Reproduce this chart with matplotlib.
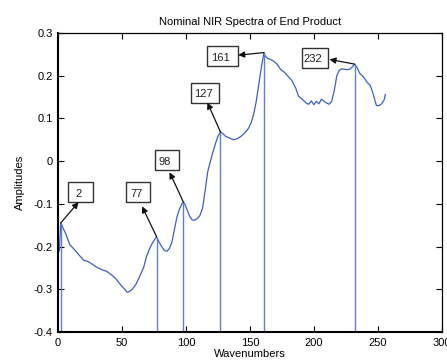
import matplotlib
matplotlib.use('Agg')
import matplotlib.pyplot as plt
from matplotlib.patches import Rectangle

# spectrum
wavenumber = [1, 2, 3, 4, 6, 9, 13, 17, 20, 24, 28, 31, 34, 38, 42, 45, 49, 52, 54, 56,
              58, 61, 63, 65, 67, 69, 71, 73, 75, 77, 79, 81, 83, 85, 87, 89, 91, 93, 95, 97,
              98, 99, 101, 103, 105, 107, 109, 111, 113, 115, 117, 119, 121, 123, 125, 127,
              129, 131, 134, 137, 140, 143, 146, 149, 151, 153, 155, 157, 159, 161, 162, 164,
              166, 168, 171, 174, 177, 180, 183, 186, 188, 190, 192, 194, 196, 198, 200, 202,
              204, 206, 208, 210, 212, 214, 216, 218, 220, 222, 224, 226, 228, 230, 232, 234,
              236, 238, 240, 242, 244, 246, 248, 249, 251, 253, 255, 256]
amplitude = [-0.21, -0.145, -0.15, -0.158, -0.17, -0.195, -0.208, -0.222, -0.232, -0.236,
             -0.244, -0.25, -0.254, -0.258, -0.267, -0.275, -0.29, -0.3, -0.307, -0.305,
             -0.3, -0.288, -0.275, -0.262, -0.248, -0.225, -0.209, -0.196, -0.186, -0.177,
             -0.19, -0.2, -0.209, -0.211, -0.205, -0.19, -0.16, -0.13, -0.112, -0.099,
             -0.096, -0.1, -0.115, -0.13, -0.138, -0.138, -0.134, -0.127, -0.11, -0.07,
             -0.025, -0.002, 0.02, 0.04, 0.058, 0.068, 0.064, 0.058, 0.054, 0.05,
             0.052, 0.058, 0.066, 0.077, 0.09, 0.11, 0.14, 0.18, 0.22, 0.254,
             0.246, 0.24, 0.238, 0.235, 0.228, 0.215, 0.208, 0.198, 0.188, 0.17,
             0.152, 0.147, 0.142, 0.136, 0.133, 0.141, 0.132, 0.14, 0.134, 0.145,
             0.14, 0.136, 0.133, 0.14, 0.165, 0.2, 0.213, 0.216, 0.215, 0.214,
             0.215, 0.22, 0.227, 0.218, 0.205, 0.2, 0.192, 0.183, 0.178, 0.162,
             0.14, 0.13, 0.13, 0.134, 0.143, 0.156]

# marked peaks
peak_x = [2, 77, 98, 127, 161, 232]
peak_y = [-0.145, -0.177, -0.096, 0.068, 0.254, 0.227]
peak_labels = ['2', '77', '98', '127', '161', '232']

# label boxes (centre) and arrow heads
box_x = [17.3, 62.5, 85.2, 115.0, 128.6, 201.0]
box_y = [-0.072, -0.073, 0.002, 0.160, 0.246, 0.242]
box_w = [19.5, 19.0, 19.5, 21.5, 23.5, 21.0]
head_x = [16.0, 65.7, 87.2, 116.8, 140.9, 212.3]
head_y = [-0.096, -0.106, -0.026, 0.137, 0.248, 0.238]

plt.rcParams['font.family'] = ['Liberation Sans', 'DejaVu Sans']

fig = plt.figure(figsize=(4.47, 3.62), dpi=100)
ax = fig.add_axes([0.130, 0.083, 0.858, 0.826])

ax.plot(wavenumber, amplitude, color='#3d5fc4', lw=0.9)
ax.vlines(peak_x, -0.4, peak_y, color='#5f7fd0', lw=1.0)

box_h = 0.046
for i in range(len(peak_x)):
    ax.add_patch(Rectangle((box_x[i] - box_w[i] / 2, box_y[i] - box_h / 2), box_w[i], box_h,
                           fill=False, edgecolor='#333333', lw=1.0, zorder=4))
    ax.text(box_x[i] - 1.5, box_y[i] - 0.004, peak_labels[i], ha='center', va='center',
            fontsize=8, color='#222222', zorder=5)
    ax.annotate('', xy=(head_x[i], head_y[i]), xytext=(peak_x[i], peak_y[i]),
                arrowprops=dict(arrowstyle='-|>', color='#111111', lw=0.9,
                                mutation_scale=9, shrinkA=0, shrinkB=0), zorder=5)

ax.set_xlim(0, 300)
ax.set_ylim(-0.4, 0.3)
ax.set_xticks([0, 50, 100, 150, 200, 250, 300])
ax.set_yticks([-0.4, -0.3, -0.2, -0.1, 0, 0.1, 0.2, 0.3])
ax.set_yticklabels(['-0.4', '-0.3', '-0.2', '-0.1', '0', '0.1', '0.2', '0.3'])
ax.tick_params(direction='in', top=True, right=True, length=4, labelsize=8, pad=4)
for side in ['top', 'right']:
    ax.spines[side].set_linewidth(0.9)
for side in ['bottom', 'left']:
    ax.spines[side].set_linewidth(1.5)

ax.set_title('Nominal NIR Spectra of End Product', fontsize=8, pad=6)
ax.set_xlabel('Wavenumbers', fontsize=8, labelpad=1)
ax.set_ylabel('Amplitudes', fontsize=8, labelpad=6)

fig.savefig('out.png', dpi=100)
